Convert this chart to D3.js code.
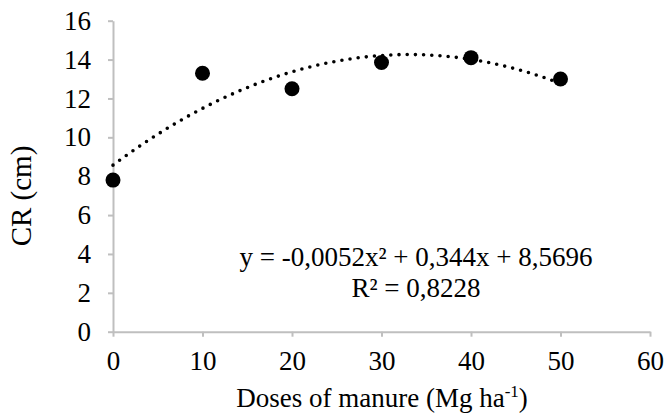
<!DOCTYPE html>
<html>
<head>
<meta charset="utf-8">
<script src="https://cdn.jsdelivr.net/npm/d3@7"></script>
<style>
  body { margin: 0; background: #fff; }
  svg text { font-family: "Liberation Serif", "Times New Roman", serif; fill: #000; }
</style>
</head>
<body>
<div id="chart"></div>
<script>
// Observed values (dose of manure vs CR)
const doses = [0, 10, 20, 30, 40, 50];
const crValues = [7.8, 13.3, 12.5, 13.85, 14.1, 13.0];

// Polynomial trendline coefficients as printed on the chart: a*x^2 + b*x + c
const trendCoefs = [-0.0052, 0.344, 8.5696];
const trendRange = [0, 50];

const xTicks = [0, 10, 20, 30, 40, 50, 60];
const yTicks = [0, 2, 4, 6, 8, 10, 12, 14, 16];

const equationText = "y = -0,0052x² + 0,344x + 8,5696";
const r2Text = "R² = 0,8228";

const W = 665, H = 414;
const margin = {top: 20.7, right: 15, bottom: 82.3, left: 113};
const width = W - margin.left - margin.right,
    height = H - margin.top - margin.bottom;
const fontSize = 27;

const svg = d3.select("#chart")
    .append("svg")
    .attr("width", W)
    .attr("height", H);
const g = svg.append("g")
    .attr("transform", "translate(" + margin.left + "," + margin.top + ")");

const x = d3.scaleLinear().domain([0, 60]).range([0, width]);
const y = d3.scaleLinear().domain([0, 16]).range([height, 0]);

const axisColor = "#bfbfbf";

// Y axis
const yAxis = g.append("g")
    .call(d3.axisLeft(y).tickValues(yTicks).tickSize(5).tickSizeOuter(0).tickPadding(17));
// X axis
const xAxis = g.append("g")
    .attr("transform", "translate(0," + height + ")")
    .call(d3.axisBottom(x).tickValues(xTicks).tickSize(5).tickSizeOuter(0).tickPadding(14));

[xAxis, yAxis].forEach(ax => {
    ax.attr("font-family", null).attr("font-size", null);
    ax.select(".domain").attr("stroke", axisColor).attr("stroke-width", 2);
    ax.selectAll(".tick line").attr("stroke", axisColor).attr("stroke-width", 2);
    ax.selectAll(".tick text")
        .attr("font-size", fontSize)
        .attr("fill", "#000");
});

// Trendline
const trend = x0 => trendCoefs[0] * x0 * x0 + trendCoefs[1] * x0 + trendCoefs[2];
const trendPts = d3.range(trendRange[0], trendRange[1] + 0.25, 0.5).map(v => [v, trend(v)]);
g.append("path")
    .datum(trendPts)
    .attr("fill", "none")
    .attr("stroke", "#000")
    .attr("stroke-width", 3.6)
    .attr("stroke-linecap", "round")
    .attr("stroke-dasharray", "0 8.2")
    .attr("d", d3.line().x(d => x(d[0])).y(d => y(d[1])));

// Data points
g.append("g")
    .selectAll("circle")
    .data(doses)
    .enter()
    .append("circle")
    .attr("cx", d => x(d))
    .attr("cy", (d, i) => y(crValues[i]))
    .attr("r", 7.5)
    .attr("fill", "#000");

// Equation labels
svg.append("text")
    .attr("x", 416)
    .attr("y", 266)
    .attr("text-anchor", "middle")
    .attr("font-size", fontSize)
    .text(equationText);
svg.append("text")
    .attr("x", 416)
    .attr("y", 297)
    .attr("text-anchor", "middle")
    .attr("font-size", fontSize)
    .text(r2Text);

// Axis titles
svg.append("text")
    .attr("text-anchor", "middle")
    .attr("transform", "translate(31,196) rotate(-90)")
    .attr("font-size", 29)
    .text("CR (cm)");

const xTitle = svg.append("text")
    .attr("text-anchor", "middle")
    .attr("x", 382)
    .attr("y", 407)
    .attr("font-size", fontSize);
xTitle.append("tspan").text("Doses of manure (Mg ha");
xTitle.append("tspan").attr("font-size", 17).attr("dy", -10).text("-1");
xTitle.append("tspan").attr("dy", 10).text(")");
</script>
</body>
</html>
